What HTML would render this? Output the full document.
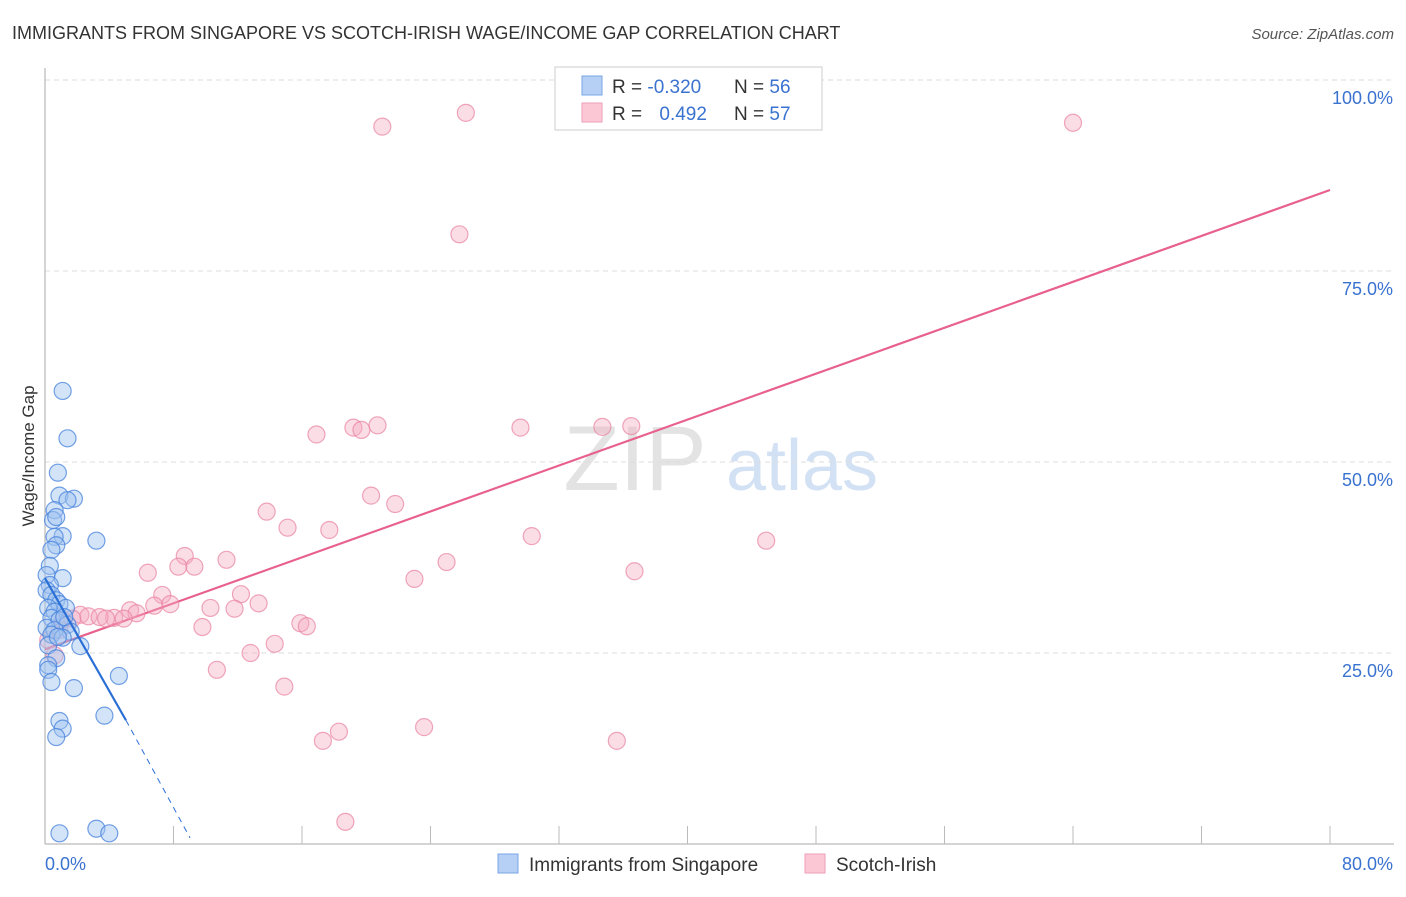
<!DOCTYPE html>
<html><head><meta charset="utf-8"><style>
body{margin:0;background:#fff;font-family:"Liberation Sans",sans-serif;}
svg text{font-family:"Liberation Sans",sans-serif;}
</style></head><body>
<svg id="chart" width="1406" height="892" viewBox="0 0 1406 892" xmlns="http://www.w3.org/2000/svg">
<text x="12" y="39" font-size="18" fill="#333">IMMIGRANTS FROM SINGAPORE VS SCOTCH-IRISH WAGE/INCOME GAP CORRELATION CHART</text>
<text x="1394" y="39" font-size="15" fill="#555" text-anchor="end" font-style="italic">Source: ZipAtlas.com</text>
<text transform="translate(34,456) rotate(-90)" font-size="17" fill="#333" text-anchor="middle">Wage/Income Gap</text>
<g id="watermark">
<text x="635" y="490" font-size="92" fill="#ddd" font-family="Liberation Serif" text-anchor="middle" opacity="0.8">ZIP</text>
<text x="802" y="490" font-size="72" fill="#c9daf2" text-anchor="middle" opacity="0.8">atlas</text>
</g>
<g id="grid"></g>
<g id="axes"></g>
<g id="trends"></g>
<g id="points"></g>
<g>
<rect x="555" y="67" width="267" height="63" fill="#fff" stroke="#ccc"/>
<rect x="582" y="76" width="20" height="19" fill="#b6d0f5" stroke="#7aa6e6"/>
<rect x="582" y="103" width="20" height="19" fill="#fbc7d5" stroke="#ee9fb6"/>
<text x="612" y="93" font-size="19" fill="#333">R = <tspan fill="#3a72d0">-0.320</tspan></text>
<text x="734" y="93" font-size="19" fill="#333">N = <tspan fill="#3a72d0">56</tspan></text>
<text x="612" y="120" font-size="19" fill="#333">R = <tspan fill="#3a72d0" dx="12">0.492</tspan></text>
<text x="734" y="120" font-size="19" fill="#333">N = <tspan fill="#3a72d0">57</tspan></text>
</g>
<g>
<rect x="498" y="854" width="20" height="19" fill="#b6d0f5" stroke="#7aa6e6"/>
<text x="529" y="871" font-size="19" fill="#333">Immigrants from Singapore</text>
<rect x="805" y="854" width="20" height="19" fill="#fbc7d5" stroke="#ee9fb6"/>
<text x="836" y="871" font-size="19" fill="#333">Scotch-Irish</text>
</g>
</svg>
<script>
const yTicks=[25,50,75,100];
const yTickLabels=["25.0%","50.0%","75.0%","100.0%"];
const xTickLabels=["0.0%","80.0%"];
const blueX=[1.1,1.4,0.8,0.9,1.8,1.4,0.6,0.5,0.7,1.1,0.6,0.7,0.4,3.2,0.3,0.1,1.1,0.3,0.1,0.4,0.7,0.9,1.3,0.2,0.6,0.4,0.9,1.4,0.1,0.6,1.6,0.4,1.1,0.2,2.2,0.7,0.2,4.6,0.2,0.4,1.8,3.7,0.9,1.1,0.7,0.9,3.2,4.0,0.8,1.2];
const blueY=[59.3,53.1,48.6,45.6,45.2,45.0,43.7,42.4,42.8,40.3,40.2,39.1,38.5,39.7,36.4,35.2,34.8,33.9,33.2,32.6,31.9,31.4,30.9,30.9,30.4,29.6,29.3,28.7,28.3,28.0,27.8,27.4,27.0,26.0,25.9,24.3,23.4,22.0,22.8,21.2,20.4,16.8,16.1,15.1,14.0,1.4,2.0,1.4,27.1,29.7];
const pinkX=[21.0,26.2,64.0,25.8,16.9,19.2,19.7,20.7,29.6,34.7,36.5,20.3,21.8,13.8,15.1,17.7,30.3,44.9,8.7,11.3,6.4,8.3,9.3,25.0,23.0,36.7,7.3,12.2,13.3,6.8,7.8,10.3,11.8,5.3,5.7,4.3,4.9,2.2,2.7,3.4,3.8,1.1,1.7,9.8,15.9,16.3,14.3,12.8,10.7,14.9,23.6,18.3,17.3,35.6,18.7,0.6,0.2,0.9];
const pinkY=[93.9,95.7,94.4,79.8,53.6,54.5,54.2,54.8,54.5,54.6,54.7,45.6,44.5,43.5,41.4,41.1,40.3,39.7,37.7,37.2,35.5,36.3,36.3,36.9,34.7,35.7,32.6,32.7,31.5,31.2,31.4,30.9,30.8,30.6,30.2,29.6,29.5,30.0,29.8,29.7,29.5,29.3,29.5,28.4,28.9,28.5,26.2,25.0,22.8,20.6,15.3,14.7,13.5,13.5,2.9,24.7,26.7,28.0];
const blueTrendX=[0,5.04,9.03];
const blueTrendY=[34.8,16.2,0.8];
const pinkTrendX=[0,80];
const pinkTrendY=[25.5,85.6];

const NS="http://www.w3.org/2000/svg";
const X0=45,X1=1330,Y0=844,Y100=80;
function sx(v){return X0+(v/80)*(X1-X0);}
function sy(v){return Y0-(v/100)*(Y0-Y100);}
function mk(tag,attrs,parent){const e=document.createElementNS(NS,tag);for(const k in attrs)e.setAttribute(k,attrs[k]);parent.appendChild(e);return e;}
const grid=document.getElementById('grid'),axes=document.getElementById('axes'),trends=document.getElementById('trends'),pts=document.getElementById('points');
yTicks.forEach((t,i)=>{
  const l=mk('line',{x1:X0,x2:1394,y1:sy(t),y2:sy(t),stroke:'#ddd','stroke-dasharray':'5,4'},grid);
  
  
  const tx=mk('text',{x:1393,y:sy(t)+24,'font-size':18,fill:'#3a72d0','text-anchor':'end'},axes);
  tx.textContent=yTickLabels[i];
  
  
});
let a=mk('line',{x1:X0,x2:X0,y1:68,y2:Y0,stroke:'#aaa'},axes);


a=mk('line',{x1:X0,x2:1394,y1:Y0,y2:Y0,stroke:'#aaa'},axes);


for(let i=1;i<=10;i++){
  const t=mk('line',{x1:sx(i*8),x2:sx(i*8),y1:Y0,y2:Y0-18,stroke:'#bbb'},axes);
  
  
}
let xl=mk('text',{x:45,y:870,'font-size':18,fill:'#3a72d0'},axes);xl.textContent=xTickLabels[0];


xl=mk('text',{x:1393,y:870,'font-size':18,fill:'#3a72d0','text-anchor':'end'},axes);xl.textContent=xTickLabels[1];



pinkX.forEach((x,i)=>{
  const c=mk('circle',{cx:sx(x),cy:sy(pinkY[i]),r:8.5,fill:'rgba(246,170,192,0.4)',stroke:'rgba(232,130,160,0.7)','stroke-width':1.2},pts);
  
  
});
blueX.forEach((x,i)=>{
  const c=mk('circle',{cx:sx(x),cy:sy(blueY[i]),r:8.5,fill:'rgba(160,196,240,0.45)',stroke:'rgba(70,130,220,0.75)','stroke-width':1.2},pts);
  
  
});
let tl=mk('line',{x1:sx(pinkTrendX[0]),y1:sy(pinkTrendY[0]),x2:sx(pinkTrendX[1]),y2:sy(pinkTrendY[1]),stroke:'#e8608c','stroke-width':2.2},trends);


tl=mk('line',{x1:sx(blueTrendX[0]),y1:sy(blueTrendY[0]),x2:sx(blueTrendX[1]),y2:sy(blueTrendY[1]),stroke:'#2a6fd6','stroke-width':2.2},pts);


tl=mk('line',{x1:sx(blueTrendX[1]),y1:sy(blueTrendY[1]),x2:sx(blueTrendX[2]),y2:sy(blueTrendY[2]),stroke:'#2a6fd6','stroke-width':1,'stroke-dasharray':'6,5'},pts);


</script>
</body></html>
